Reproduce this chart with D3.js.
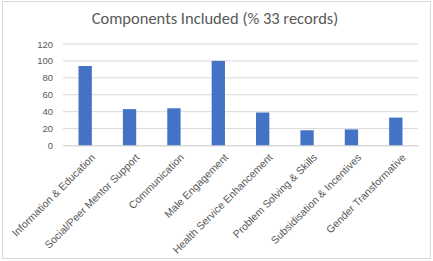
<!DOCTYPE html>
<html>
<head>
<meta charset="utf-8">
<script src="https://cdn.jsdelivr.net/npm/d3@7"></script>
<style>
  body { margin: 0; background: #fff; }
  svg { display: block; font-family: Calibri, Carlito, "Liberation Sans", sans-serif; }
</style>
</head>
<body>
<div id="chart"></div>
<script>
const categories = ["Information & Education", "Social/Peer Mentor Support", "Communication",
  "Male Engagement", "Health Service Enhancement", "Problem Solving & Skills",
  "Subsidisation & Incentives", "Gender Transformative"];
const values = [94, 43, 44, 100, 39, 18, 19, 33];
const yTicks = [0, 20, 40, 60, 80, 100, 120];

const w = 433, h = 261;
const margin = { top: 44, right: 15, bottom: 115.5, left: 63 };

const svg = d3.select("#chart").append("svg")
  .attr("width", w)
  .attr("height", h);

svg.append("rect")
  .attr("x", 2.5).attr("y", 1.5)
  .attr("width", w - 5).attr("height", h - 4)
  .attr("fill", "#fff")
  .attr("stroke", "#d9d9d9");

const x = d3.scaleBand()
  .domain(categories)
  .range([margin.left, w - margin.right])
  .paddingInner(0.7)
  .paddingOuter(0.35);

const y = d3.scaleLinear()
  .domain([0, 120])
  .range([h - margin.bottom, margin.top]);

// gridlines
svg.append("g")
  .selectAll("line")
  .data(yTicks)
  .join("line")
  .attr("x1", margin.left).attr("x2", w - margin.right)
  .attr("y1", d => y(d)).attr("y2", d => y(d))
  .attr("stroke", "#d9d9d9")
  .attr("stroke-width", 1);

// y axis labels
const yAxis = svg.append("g")
  .attr("transform", "translate(" + margin.left + ",0)")
  .call(d3.axisLeft(y).tickValues(yTicks).tickSize(0).tickPadding(10));
yAxis.select(".domain").remove();
yAxis.selectAll("text")
  .attr("fill", "#595959")
  .style("font-size", "9.5px");

// bars
svg.append("g")
  .selectAll("rect")
  .data(values)
  .join("rect")
  .attr("x", (d, i) => x(categories[i]))
  .attr("y", d => y(d))
  .attr("width", x.bandwidth())
  .attr("height", d => y(0) - y(d))
  .attr("fill", "#4472c4");

// x axis labels
const xAxis = svg.append("g")
  .attr("transform", "translate(0," + y(0) + ")")
  .call(d3.axisBottom(x).tickSize(0).tickPadding(0));
xAxis.select(".domain")
  .attr("stroke", "#d9d9d9");
xAxis.selectAll("text")
  .attr("fill", "#595959")
  .style("font-size", "10.5px")
  .style("text-anchor", "end")
  .attr("dy", "0.35em")
  .attr("transform", "translate(8,10) rotate(-45)");

// title
svg.append("text")
  .text("Components Included (% 33 records)")
  .attr("x", 215)
  .attr("y", 24)
  .style("text-anchor", "middle")
  .style("font-size", "16.5px")
  .attr("fill", "#595959");
</script>
</body>
</html>
